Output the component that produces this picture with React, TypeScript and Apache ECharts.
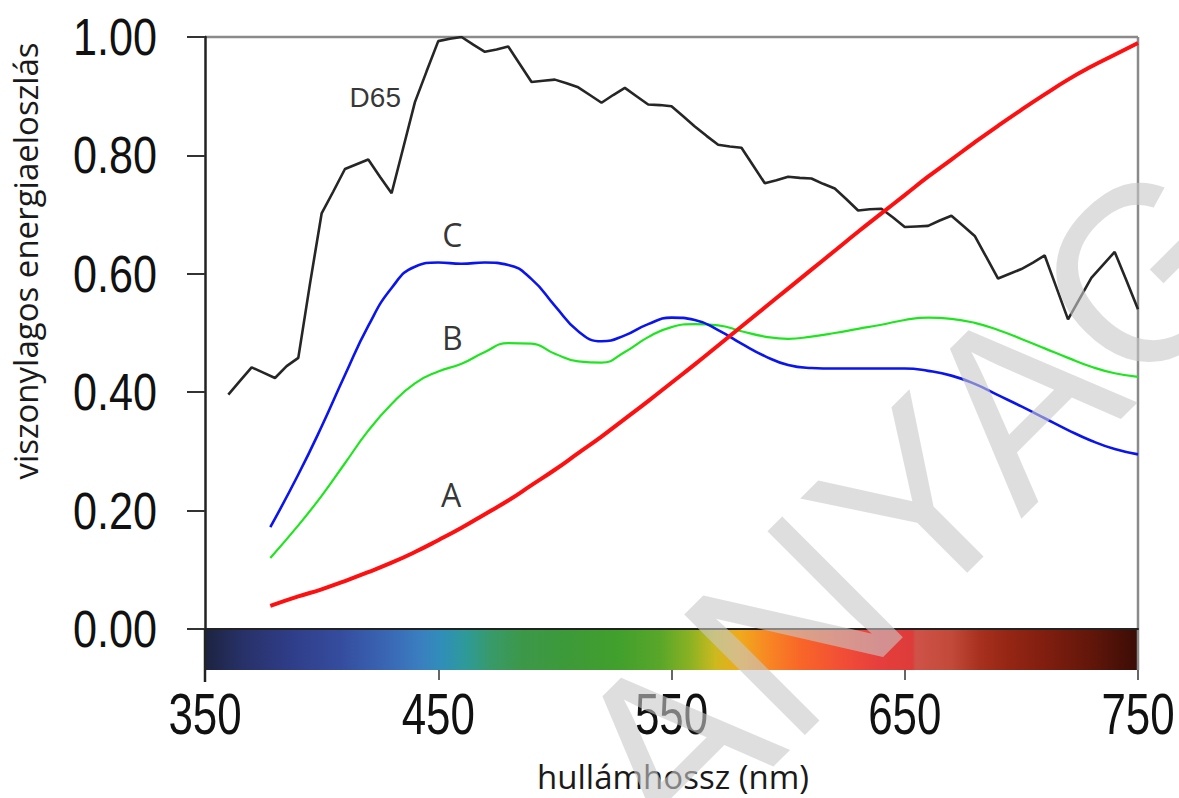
import React, { useEffect, useRef } from "react";
import * as echarts from "echarts";

const WIDTH = 1179;
const HEIGHT = 798;
const GRID_LEFT = 205;
const GRID_RIGHT = 41;
const GRID_TOP = 37;
const GRID_BOTTOM = 169;
const BAR_HEIGHT = 41;

const X_MIN = 350;
const X_MAX = 750;
const X_STEP = 100;
const Y_MIN = 0;
const Y_MAX = 1;
const Y_STEP = 0.2;

const xTicks = [350, 450, 550, 650, 750];
const yTicks = [0, 0.2, 0.4, 0.6, 0.8, 1.0];

// D65 (black)
const d65Wavelengths = [
  360, 365, 370, 375, 380, 385, 390, 395, 400, 405, 410, 415, 420, 425, 430, 435, 440, 445, 450, 455,
  460, 465, 470, 475, 480, 485, 490, 495, 500, 505, 510, 515, 520, 525, 530, 535, 540, 545, 550, 555,
  560, 565, 570, 575, 580, 585, 590, 595, 600, 605, 610, 615, 620, 625, 630, 635, 640, 645, 650, 655,
  660, 665, 670, 675, 680, 685, 690, 695, 700, 705, 710, 715, 720, 725, 730, 735, 740, 745, 750,
];
const d65Values = [
  0.396, 0.419, 0.442, 0.433, 0.424, 0.444, 0.458, 0.583, 0.702, 0.739, 0.777, 0.785, 0.793, 0.764, 0.736, 0.813, 0.89, 0.942, 0.993, 0.997,
  1.0, 0.987, 0.975, 0.979, 0.984, 0.954, 0.924, 0.926, 0.928, 0.922, 0.915, 0.902, 0.889, 0.902, 0.914, 0.9, 0.886, 0.885, 0.883, 0.866,
  0.849, 0.833, 0.818, 0.815, 0.813, 0.783, 0.753, 0.758, 0.764, 0.762, 0.761, 0.752, 0.744, 0.726, 0.707, 0.709, 0.71, 0.695, 0.679, 0.68,
  0.681, 0.69, 0.698, 0.681, 0.664, 0.628, 0.592, 0.6, 0.608, 0.619, 0.631, 0.577, 0.523, 0.558, 0.593, 0.615, 0.637, 0.589, 0.54,
];

// A, B, C illuminants
const abcWavelengths = [
  378, 390, 400, 410, 420, 430, 440, 450, 460, 470, 480, 490, 500, 510, 520, 530, 540, 550, 560, 570,
  580, 590, 600, 610, 620, 630, 640, 650, 660, 670, 680, 690, 700, 710, 720, 730, 740, 750,
];
const illumA = [
  0.039, 0.055, 0.067, 0.081, 0.096, 0.112, 0.13, 0.15, 0.171, 0.194, 0.217, 0.243, 0.269, 0.297, 0.325, 0.355, 0.385, 0.416, 0.447, 0.479,
  0.511, 0.543, 0.575, 0.607, 0.639, 0.671, 0.702, 0.733, 0.764, 0.793, 0.822, 0.85, 0.877, 0.903, 0.928, 0.95, 0.97, 0.99,
];
const illumB = [
  0.12, 0.175, 0.225, 0.28, 0.335, 0.38, 0.415, 0.435, 0.448, 0.468, 0.483, 0.482, 0.465, 0.452, 0.45, 0.468, 0.493, 0.51, 0.515, 0.513,
  0.503, 0.494, 0.49, 0.494, 0.5, 0.507, 0.514, 0.522, 0.526, 0.524, 0.517, 0.505, 0.49, 0.474, 0.458, 0.443, 0.432, 0.426,
];
const illumC = [
  0.172, 0.261, 0.342, 0.429, 0.512, 0.576, 0.612, 0.619, 0.617, 0.619, 0.615, 0.591, 0.546, 0.503, 0.486, 0.496, 0.515, 0.526, 0.522, 0.505,
  0.482, 0.461, 0.446, 0.441, 0.44, 0.44, 0.44, 0.44, 0.436, 0.428, 0.414, 0.395, 0.376, 0.356, 0.336, 0.318, 0.304, 0.295,
];

// curve labels (data coordinates)
const labelNames = ["D65", "C", "B", "A"];
const labelX = [423, 456, 456, 455.5];
const labelY = [0.897, 0.667, 0.492, 0.228];

// spectrum bar colour stops
const spectrumStops = [0, 0.0375, 0.091, 0.145, 0.198, 0.23, 0.252, 0.279, 0.305, 0.338, 0.391, 0.445, 0.488, 0.52, 0.547, 0.573, 0.606, 0.638, 0.691, 0.723, 0.758, 0.762, 0.8, 0.83, 0.86, 0.9, 0.95, 1];
const spectrumColors = [
  "#1c2340", "#273066", "#2f3d88", "#354c9e", "#3a68b5", "#3a7ec0", "#318dba", "#2e9a9a", "#389a6c", "#3c984a", "#3d9a38", "#42a02c", "#5aa62a",
  "#8ab223", "#cdb91f", "#f0aa1c", "#f88424", "#f96628", "#f04a38", "#e63e3c", "#dc3c3a", "#cf5248", "#c24a3a", "#a8301e", "#962614", "#801e10", "#62160a", "#3a0c06",
];

const SANS_NUM = "'Liberation Sans', Arial, sans-serif";
const SANS = "'Open Sans', 'Noto Sans', sans-serif";

function zip(xs: number[], ys: number[]) {
  return xs.map((x, i) => [x, ys[i]]);
}

export default function App() {
  const ref = useRef<HTMLDivElement>(null);

  useEffect(() => {
    if (!ref.current) return;
    const chart = echarts.init(ref.current, undefined, { renderer: "svg" });
    const plotW = WIDTH - GRID_LEFT - GRID_RIGHT;
    const plotBottom = HEIGHT - GRID_BOTTOM;
    const plotRight = WIDTH - GRID_RIGHT;

    const lineSeries = (name: string, data: number[][], color: string, width: number, smooth: boolean, z: number) => ({
      name,
      type: "line",
      data,
      showSymbol: false,
      smooth,
      z,
      lineStyle: { color, width },
      itemStyle: { color },
    });

    const baseGraphics: any[] = [
      {
        id: "spectrum",
        type: "rect",
        z: -10,
        shape: { x: GRID_LEFT, y: plotBottom, width: plotW, height: BAR_HEIGHT },
        style: {
          fill: new echarts.graphic.LinearGradient(
            0, 0, 1, 0,
            spectrumStops.map((o, i) => ({ offset: o, color: spectrumColors[i] }))
          ),
        },
      },
      {
        id: "frameTop",
        type: "line",
        z: -5,
        shape: { x1: GRID_LEFT, y1: GRID_TOP, x2: plotRight, y2: GRID_TOP },
        style: { stroke: "#8a8a8a", lineWidth: 2.5 },
      },
      {
        id: "frameRight",
        type: "line",
        z: -5,
        shape: { x1: plotRight, y1: GRID_TOP, x2: plotRight, y2: plotBottom + BAR_HEIGHT },
        style: { stroke: "#8a8a8a", lineWidth: 2.5 },
      },
      {
        id: "leftExt",
        type: "line",
        z: 10,
        shape: { x1: GRID_LEFT, y1: plotBottom, x2: GRID_LEFT, y2: plotBottom + BAR_HEIGHT + 12 },
        style: { stroke: "#222", lineWidth: 2.5 },
      },
      {
        id: "yName",
        type: "text",
        z: 10,
        x: 25,
        y: (GRID_TOP + 485) / 2,
        rotation: Math.PI / 2,
        style: {
          text: "viszonylagos energiaeloszlás",
          fontFamily: SANS,
          fontSize: 33,
          fill: "#1a1a1a",
          align: "center",
          verticalAlign: "middle",
        },
      },
      {
        id: "xName",
        type: "text",
        z: 10,
        x: 673,
        y: 776,
        style: {
          text: "hullámhossz (nm)",
          fontFamily: SANS,
          fontSize: 33,
          fill: "#1a1a1a",
          align: "center",
          verticalAlign: "middle",
        },
      },
      {
        id: "watermark",
        type: "text",
        z: 100,
        x: 613,
        y: 806,
        rotation: Math.PI / 4,
        style: {
          text: "ANYAG",
          fontFamily: SANS_NUM,
          fontSize: 248,
          fill: "rgba(200,200,200,0.6)",
          align: "left",
          verticalAlign: "middle",
        },
      },
    ];

    chart.setOption({
      animation: false,
      backgroundColor: "#ffffff",
      grid: { left: GRID_LEFT, right: GRID_RIGHT, top: GRID_TOP, bottom: GRID_BOTTOM, show: false },
      xAxis: [
        {
          type: "value",
          min: X_MIN,
          max: X_MAX,
          interval: X_STEP,
          position: "bottom",
          axisLine: { show: true, lineStyle: { color: "#222", width: 2 } },
          axisTick: { show: false },
          axisLabel: { show: false },
          splitLine: { show: false },
          z: 5,
        },
        {
          type: "value",
          min: X_MIN,
          max: X_MAX,
          interval: X_STEP,
          position: "bottom",
          offset: BAR_HEIGHT,
          axisLine: { show: false },
          axisTick: { show: true, length: 10, lineStyle: { color: "#333", width: 1.5 } },
          axisLabel: { show: false },
          splitLine: { show: false },
        },
      ],
      yAxis: {
        type: "value",
        min: Y_MIN,
        max: Y_MAX,
        interval: Y_STEP,
        axisLine: { show: true, lineStyle: { color: "#222", width: 2.5 } },
        axisTick: { show: true, length: 18, lineStyle: { color: "#333", width: 2 } },
        axisLabel: { show: false },
        splitLine: { show: false },
        z: 5,
      },
      graphic: baseGraphics,
      series: [
        lineSeries("D65", zip(d65Wavelengths, d65Values), "#262626", 2.6, false, 2),
        lineSeries("B", zip(abcWavelengths, illumB), "#1ee61e", 2.2, true, 3),
        lineSeries("C", zip(abcWavelengths, illumC), "#0a14f0", 2.6, true, 4),
        lineSeries("A", zip(abcWavelengths, illumA), "#ff1010", 4, true, 5),
        {
          type: "scatter",
          name: "labels",
          z: 6,
          symbolSize: 1,
          itemStyle: { color: "rgba(0,0,0,0)" },
          silent: true,
          data: labelNames.map((n, i) => ({
            value: [labelX[i], labelY[i]],
            name: n,
            label: {
              show: true,
              position: "inside",
              formatter: n,
              color: "#000",
              textBorderWidth: 0,
              fontFamily: i === 0 ? SANS_NUM : SANS,
              fontSize: i === 0 ? 28 : 32,
            },
          })),
        },
      ],
    });

    // tick labels, placed through the axes' own scales (condensed like the original)
    const yLabelGraphics = yTicks.map((v, i) => ({
      id: "ylab" + i,
      type: "text",
      z: 10,
      x: GRID_LEFT - 48,
      y: chart.convertToPixel({ yAxisIndex: 0 }, v) as number,
      scaleX: 0.83,
      style: {
        text: v.toFixed(2),
        fontFamily: SANS_NUM,
        fontSize: 52,
        fill: "#111",
        align: "right",
        verticalAlign: "middle",
      },
    }));
    const xLabelGraphics = xTicks.map((v, i) => ({
      id: "xlab" + i,
      type: "text",
      z: 10,
      x: chart.convertToPixel({ xAxisIndex: 1 }, v) as number,
      y: plotBottom + BAR_HEIGHT + 44,
      scaleX: 0.77,
      style: {
        text: String(v),
        fontFamily: SANS_NUM,
        fontSize: 57,
        fill: "#111",
        align: "center",
        verticalAlign: "middle",
      },
    }));
    chart.setOption({ graphic: [...baseGraphics, ...yLabelGraphics, ...xLabelGraphics] });

    return () => chart.dispose();
  }, []);

  return (
    <div
      ref={ref}
      style={{ position: "fixed", left: 0, top: 0, width: WIDTH, height: HEIGHT, background: "#fff" }}
    />
  );
}
